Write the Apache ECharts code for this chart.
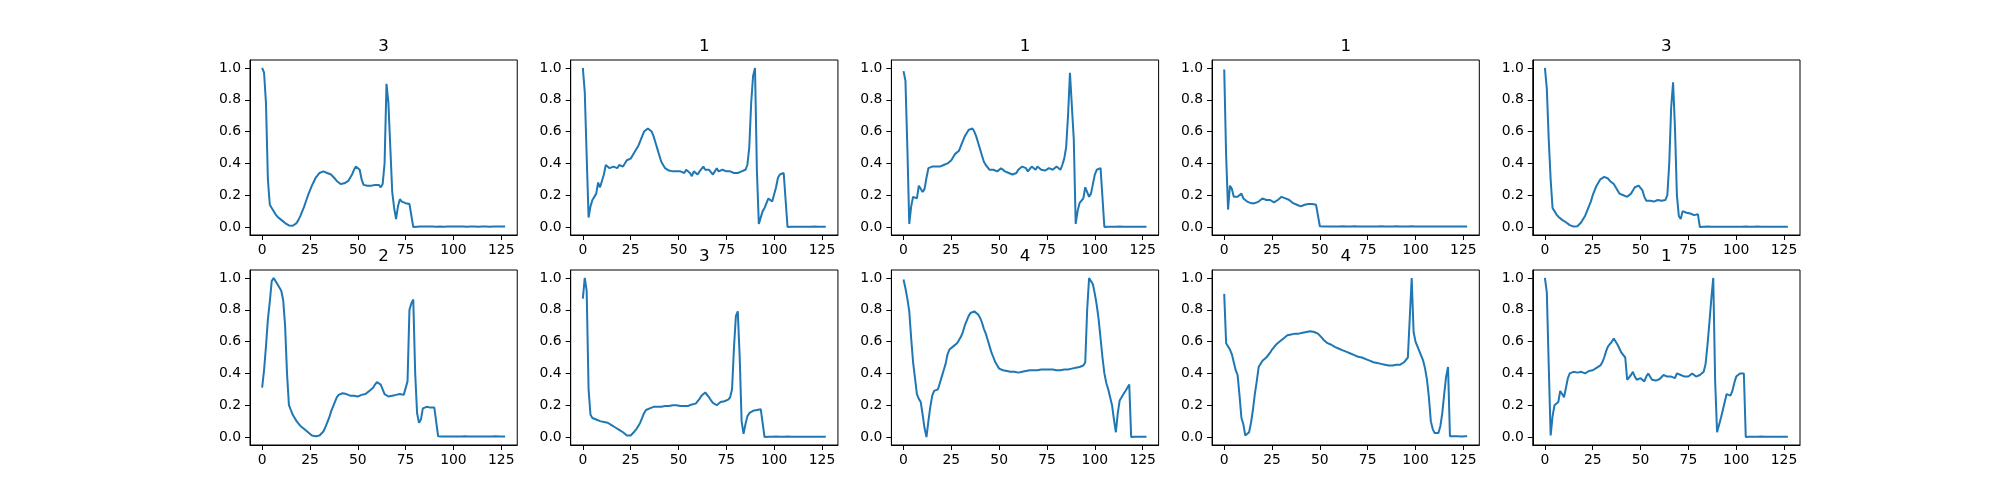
<!DOCTYPE html>
<html>
<head>
<meta charset="utf-8">
<script src="https://cdn.jsdelivr.net/npm/echarts@6/dist/echarts.min.js"></script>
<style>
  html, body { margin: 0; padding: 0; background: #fff; }
  #chart { width: 2000px; height: 500px; }
</style>
</head>
<body>
<div id="chart"></div>
<script>
// panel titles (class labels), row by row
const panelTitles = ['3', '1', '1', '1', '3', '2', '3', '4', '4', '1'];

const xTicks = [0, 25, 50, 75, 100, 125];
const yTicks = [0, 0.2, 0.4, 0.6, 0.8, 1.0];

// 128 samples per beat
const beat0 = [
  1.0, 0.97, 0.78, 0.3, 0.14, 0.12, 0.11, 0.08, 0.065, 0.055,
  0.045, 0.035, 0.025, 0.015, 0.01, 0.008, 0.008, 0.012, 0.025, 0.045,
  0.07, 0.1, 0.13, 0.165, 0.2, 0.23, 0.26, 0.285, 0.31, 0.325,
  0.34, 0.35, 0.35, 0.345, 0.34, 0.335, 0.33, 0.32, 0.305, 0.29,
  0.28, 0.27, 0.27, 0.275, 0.28, 0.29, 0.3, 0.33, 0.36, 0.38,
  0.38, 0.36, 0.3, 0.265, 0.26, 0.26, 0.26, 0.26, 0.26, 0.265,
  0.26, 0.265, 0.25, 0.27, 0.4, 0.9, 0.78, 0.5, 0.22, 0.12,
  0.05, 0.13, 0.175, 0.16, 0.155, 0.15, 0.15, 0.145, 0.15, 0.0,
  0.002, 0.002, 0.003, 0.003, 0.002, 0.003, 0.003, 0.003, 0.002, 0.003,
  0.003, 0.002, 0.003, 0.003, 0.003, 0.002, 0.003, 0.003, 0.003, 0.003,
  0.003, 0.003, 0.002, 0.003, 0.003, 0.003, 0.003, 0.002, 0.003, 0.003,
  0.003, 0.003, 0.003, 0.002, 0.003, 0.003, 0.003, 0.003, 0.003, 0.002,
  0.003, 0.003, 0.003, 0.003, 0.002, 0.003, 0.003, 0.003
];
const beat1 = [
  1.0, 0.85, 0.45, 0.06, 0.13, 0.17, 0.17, 0.21, 0.28, 0.25,
  0.25, 0.33, 0.39, 0.4, 0.37, 0.38, 0.38, 0.38, 0.37, 0.39,
  0.4, 0.38, 0.39, 0.42, 0.43, 0.43, 0.44, 0.47, 0.49, 0.51,
  0.54, 0.57, 0.6, 0.61, 0.62, 0.62, 0.6, 0.57, 0.53, 0.49,
  0.45, 0.41, 0.39, 0.37, 0.36, 0.355, 0.35, 0.35, 0.345, 0.35,
  0.36, 0.35, 0.36, 0.34, 0.36, 0.36, 0.34, 0.32, 0.35, 0.34,
  0.33, 0.35, 0.36, 0.38, 0.36, 0.37, 0.36, 0.35, 0.33, 0.35,
  0.37, 0.35, 0.35, 0.36, 0.35, 0.35, 0.34, 0.35, 0.35, 0.34,
  0.35, 0.34, 0.35, 0.35, 0.35, 0.36, 0.39, 0.5, 0.78, 0.95,
  1.0, 0.35, 0.02, 0.02, 0.1, 0.12, 0.11, 0.18, 0.17, 0.16,
  0.15, 0.25, 0.31, 0.33, 0.33, 0.34, 0.35, 0.0, 0.002, 0.002,
  0.002, 0.002, 0.003, 0.002, 0.002, 0.002, 0.003, 0.002, 0.002, 0.002,
  0.002, 0.003, 0.002, 0.002, 0.002, 0.002, 0.003, 0.002
];
const beat2 = [
  0.98, 0.92, 0.5, 0.02, 0.13, 0.19, 0.19, 0.18, 0.26, 0.26,
  0.22, 0.24, 0.31, 0.37, 0.38, 0.38, 0.38, 0.38, 0.38, 0.38,
  0.39, 0.39, 0.395, 0.4, 0.41, 0.42, 0.44, 0.46, 0.47, 0.48,
  0.51, 0.54, 0.57, 0.59, 0.61, 0.62, 0.62, 0.6, 0.57, 0.53,
  0.49, 0.45, 0.41, 0.39, 0.38, 0.36, 0.35, 0.36, 0.37, 0.35,
  0.36, 0.37, 0.36, 0.35, 0.35, 0.34, 0.35, 0.33, 0.33, 0.34,
  0.36, 0.37, 0.38, 0.39, 0.37, 0.35, 0.36, 0.38, 0.37, 0.36,
  0.38, 0.38, 0.36, 0.35, 0.355, 0.365, 0.37, 0.365, 0.36, 0.37,
  0.38, 0.37, 0.36, 0.39, 0.43, 0.5, 0.7, 0.97, 0.98, 0.55,
  0.02, 0.1, 0.15, 0.16, 0.18, 0.25, 0.22, 0.19, 0.21, 0.27,
  0.33, 0.36, 0.37, 0.37, 0.37, 0.0, 0.002, 0.002, 0.002, 0.002,
  0.002, 0.002, 0.002, 0.003, 0.002, 0.002, 0.002, 0.002, 0.002, 0.002,
  0.002, 0.002, 0.002, 0.002, 0.003, 0.002, 0.002, 0.002
];
const beat3 = [
  0.99, 0.45, 0.11, 0.26, 0.24, 0.19, 0.19, 0.19, 0.2, 0.21,
  0.18, 0.17, 0.16, 0.155, 0.15, 0.15, 0.15, 0.16, 0.16, 0.17,
  0.18, 0.17, 0.17, 0.165, 0.17, 0.16, 0.155, 0.16, 0.17, 0.18,
  0.19, 0.2, 0.18, 0.17, 0.17, 0.16, 0.15, 0.15, 0.14, 0.14,
  0.13, 0.13, 0.14, 0.145, 0.145, 0.14, 0.145, 0.145, 0.14, 0.13,
  0.005, 0.004, 0.004, 0.005, 0.004, 0.004, 0.004, 0.005, 0.004, 0.004,
  0.004, 0.004, 0.005, 0.004, 0.004, 0.004, 0.004, 0.004, 0.005, 0.004,
  0.004, 0.004, 0.004, 0.004, 0.004, 0.005, 0.004, 0.004, 0.004, 0.004,
  0.004, 0.004, 0.005, 0.004, 0.004, 0.004, 0.004, 0.004, 0.004, 0.004,
  0.005, 0.004, 0.004, 0.004, 0.004, 0.004, 0.004, 0.004, 0.005, 0.004,
  0.004, 0.004, 0.004, 0.004, 0.004, 0.004, 0.004, 0.005, 0.004, 0.004,
  0.004, 0.004, 0.004, 0.004, 0.004, 0.004, 0.004, 0.004, 0.004, 0.005,
  0.004, 0.004, 0.004, 0.004, 0.004, 0.004, 0.004, 0.004
];
const beat4 = [
  1.0, 0.87, 0.55, 0.3, 0.12, 0.1, 0.08, 0.065, 0.055, 0.045,
  0.035, 0.03, 0.02, 0.012, 0.007, 0.003, 0.002, 0.005, 0.015, 0.03,
  0.05, 0.07, 0.1, 0.13, 0.16, 0.2, 0.23, 0.26, 0.28, 0.3,
  0.31, 0.315, 0.31, 0.305, 0.29, 0.28, 0.27, 0.25, 0.23, 0.21,
  0.205, 0.2, 0.195, 0.19, 0.2, 0.21, 0.23, 0.25, 0.26, 0.26,
  0.255, 0.23, 0.19, 0.165, 0.16, 0.165, 0.16, 0.16, 0.165, 0.17,
  0.17, 0.165, 0.16, 0.17, 0.2, 0.4, 0.75, 0.91, 0.62, 0.2,
  0.07, 0.05, 0.1, 0.09, 0.09, 0.085, 0.085, 0.075, 0.075, 0.075,
  0.08, 0.0, 0.002, 0.002, 0.002, 0.003, 0.002, 0.002, 0.002, 0.002,
  0.002, 0.002, 0.003, 0.002, 0.002, 0.002, 0.002, 0.002, 0.003, 0.002,
  0.002, 0.002, 0.002, 0.002, 0.002, 0.003, 0.002, 0.002, 0.002, 0.002,
  0.002, 0.003, 0.002, 0.002, 0.002, 0.002, 0.002, 0.002, 0.003, 0.002,
  0.002, 0.002, 0.002, 0.002, 0.003, 0.002, 0.002, 0.002
];
const beat5 = [
  0.31, 0.42, 0.57, 0.74, 0.85, 0.98, 1.0, 0.99, 0.96, 0.94,
  0.92, 0.86, 0.7, 0.4, 0.2, 0.17, 0.14, 0.12, 0.1, 0.085,
  0.07, 0.06, 0.05, 0.04, 0.03, 0.02, 0.01, 0.005, 0.005, 0.006,
  0.01, 0.02, 0.035, 0.06, 0.09, 0.12, 0.16, 0.19, 0.22, 0.25,
  0.265, 0.27, 0.275, 0.275, 0.27, 0.265, 0.26, 0.26, 0.26, 0.255,
  0.255, 0.26, 0.265, 0.265, 0.27, 0.28, 0.29, 0.3, 0.31, 0.33,
  0.345, 0.345, 0.33, 0.3, 0.27, 0.26, 0.255, 0.26, 0.26, 0.26,
  0.265, 0.265, 0.27, 0.265, 0.265, 0.27, 0.35, 0.8, 0.84, 0.865,
  0.4, 0.15, 0.09, 0.11, 0.18, 0.19, 0.19, 0.19, 0.185, 0.18,
  0.185, 0.19, 0.005, 0.004, 0.004, 0.005, 0.004, 0.004, 0.004, 0.004,
  0.004, 0.005, 0.004, 0.004, 0.004, 0.004, 0.005, 0.004, 0.004, 0.004,
  0.004, 0.004, 0.004, 0.005, 0.004, 0.004, 0.004, 0.004, 0.004, 0.004,
  0.004, 0.004, 0.005, 0.004, 0.004, 0.004, 0.004, 0.004
];
const beat6 = [
  0.87, 1.0, 0.92, 0.3, 0.14, 0.12, 0.11, 0.11, 0.105, 0.1,
  0.1, 0.095, 0.095, 0.09, 0.085, 0.075, 0.07, 0.06, 0.05, 0.045,
  0.035, 0.03, 0.02, 0.01, 0.008, 0.01, 0.02, 0.035, 0.05, 0.07,
  0.09, 0.12, 0.15, 0.17, 0.175, 0.18, 0.185, 0.19, 0.185, 0.19,
  0.19, 0.19, 0.19, 0.195, 0.19, 0.195, 0.195, 0.2, 0.195, 0.2,
  0.2, 0.195, 0.19, 0.195, 0.2, 0.195, 0.2, 0.205, 0.21, 0.21,
  0.22, 0.24, 0.26, 0.27, 0.28, 0.27, 0.25, 0.23, 0.215, 0.205,
  0.2, 0.21, 0.22, 0.225, 0.225, 0.23, 0.235, 0.25, 0.3, 0.56,
  0.76, 0.79, 0.5, 0.1, 0.02, 0.08, 0.13, 0.15, 0.16, 0.165,
  0.17, 0.17, 0.175, 0.175, 0.175, 0.0, 0.002, 0.002, 0.002, 0.002,
  0.002, 0.003, 0.002, 0.002, 0.002, 0.002, 0.002, 0.003, 0.002, 0.002,
  0.002, 0.002, 0.002, 0.002, 0.003, 0.002, 0.002, 0.002, 0.002, 0.002,
  0.003, 0.002, 0.002, 0.002, 0.002, 0.002, 0.002, 0.002
];
const beat7 = [
  0.99, 0.935, 0.87, 0.79, 0.62, 0.47, 0.37, 0.27, 0.24, 0.22,
  0.14, 0.055, 0.0, 0.1, 0.19, 0.26, 0.29, 0.3, 0.3, 0.34,
  0.38, 0.42, 0.46, 0.52, 0.55, 0.56, 0.57, 0.58, 0.59, 0.61,
  0.63, 0.66, 0.7, 0.73, 0.76, 0.78, 0.79, 0.79, 0.78, 0.77,
  0.75, 0.72, 0.68, 0.65, 0.61, 0.57, 0.53, 0.5, 0.47, 0.45,
  0.43, 0.425, 0.42, 0.415, 0.415, 0.41, 0.41, 0.41, 0.41, 0.41,
  0.405, 0.41, 0.41, 0.415, 0.415, 0.42, 0.42, 0.42, 0.42, 0.42,
  0.42, 0.425, 0.425, 0.425, 0.425, 0.425, 0.425, 0.425, 0.425, 0.425,
  0.42, 0.42, 0.42, 0.425, 0.425, 0.425, 0.425, 0.425, 0.43, 0.43,
  0.435, 0.44, 0.44, 0.445, 0.45, 0.47, 0.8, 1.0, 0.99, 0.96,
  0.9, 0.83, 0.74, 0.62, 0.5, 0.4, 0.34, 0.3, 0.25, 0.2,
  0.11, 0.03, 0.15, 0.23, 0.25, 0.27, 0.29, 0.3, 0.33, 0.0,
  0.002, 0.002, 0.003, 0.002, 0.002, 0.002, 0.003, 0.002
];
const beat8 = [
  0.9, 0.59, 0.59, 0.55, 0.52, 0.47, 0.42, 0.39, 0.26, 0.12,
  0.08, 0.01, 0.015, 0.03, 0.09, 0.17, 0.27, 0.35, 0.44, 0.45,
  0.48, 0.49, 0.5, 0.51, 0.53, 0.55, 0.56, 0.58, 0.59, 0.6,
  0.61, 0.62, 0.625, 0.64, 0.64, 0.645, 0.645, 0.65, 0.65, 0.65,
  0.655, 0.655, 0.66, 0.66, 0.665, 0.665, 0.665, 0.66, 0.655, 0.65,
  0.64, 0.625, 0.61, 0.6, 0.59, 0.585, 0.58, 0.575, 0.565, 0.56,
  0.555, 0.55, 0.545, 0.54, 0.535, 0.53, 0.525, 0.52, 0.515, 0.51,
  0.505, 0.5, 0.5, 0.495, 0.49, 0.485, 0.48, 0.475, 0.47, 0.465,
  0.465, 0.46, 0.46, 0.455, 0.455, 0.455, 0.45, 0.455, 0.45, 0.45,
  0.455, 0.45, 0.455, 0.46, 0.47, 0.48, 0.5, 0.75, 1.0, 0.66,
  0.6, 0.57, 0.54, 0.51, 0.48, 0.43, 0.36, 0.25, 0.1, 0.05,
  0.025, 0.03, 0.025, 0.07, 0.15, 0.27, 0.38, 0.44, 0.005, 0.005,
  0.005, 0.004, 0.005, 0.005, 0.004, 0.005, 0.005, 0.005
];
const beat9 = [
  1.0, 0.91, 0.45, 0.01, 0.13, 0.2, 0.2, 0.22, 0.29, 0.27,
  0.25, 0.31, 0.37, 0.4, 0.4, 0.41, 0.415, 0.405, 0.4, 0.41,
  0.4, 0.4, 0.41, 0.415, 0.42, 0.42, 0.43, 0.435, 0.44, 0.45,
  0.47, 0.5, 0.54, 0.57, 0.58, 0.6, 0.62, 0.62, 0.58, 0.555,
  0.53, 0.52, 0.5, 0.36, 0.35, 0.39, 0.41, 0.38, 0.36, 0.365,
  0.37, 0.36, 0.35, 0.38, 0.4, 0.39, 0.36, 0.35, 0.355, 0.36,
  0.365, 0.37, 0.39, 0.4, 0.38, 0.375, 0.38, 0.39, 0.37, 0.4,
  0.4, 0.39, 0.385, 0.38, 0.38, 0.38, 0.39, 0.4, 0.39, 0.38,
  0.37, 0.39, 0.4, 0.41, 0.46, 0.58, 0.72, 0.87, 1.0, 0.35,
  0.03, 0.03, 0.12, 0.17, 0.18, 0.27, 0.28, 0.26, 0.29, 0.34,
  0.38, 0.39, 0.4, 0.4, 0.4, 0.0, 0.002, 0.002, 0.003, 0.002,
  0.002, 0.002, 0.002, 0.003, 0.002, 0.002, 0.002, 0.002, 0.003, 0.002,
  0.002, 0.002, 0.003, 0.002, 0.002, 0.002, 0.004, 0.002
];

const beats = [beat0, beat1, beat2, beat3, beat4, beat5, beat6, beat7, beat8, beat9];

// matplotlib-like subplot geometry (2 rows x 5 cols)
const FIG_LEFT = 250;
const PANEL_W = 267.24;
const PANEL_STEP = 320.69;
const ROW_TOP = [60, 270];
const PANEL_H = 175;
const FONT = 'DejaVu Sans';

const chart = echarts.init(document.getElementById('chart'), null, { renderer: 'canvas' });

const grids = [];
const xAxes = [];
const yAxes = [];
const series = [];
const titles = [];

beats.forEach((beat, i) => {
  const col = i % 5;
  const row = Math.floor(i / 5);
  const left = FIG_LEFT + col * PANEL_STEP;
  const top = ROW_TOP[row];

  grids.push({
    left: left, top: top, width: PANEL_W, height: PANEL_H,
    show: true, borderColor: '#000', borderWidth: 1, backgroundColor: '#fff'
  });

  xAxes.push({
    type: 'value', gridIndex: i, min: -6.35, max: 133.35,
    axisLine: { show: true, onZero: false, lineStyle: { color: '#000', width: 1 } },
    axisTick: { show: true, length: 5, lineStyle: { color: '#000', width: 1 }, customValues: xTicks },
    axisLabel: {
      customValues: xTicks, margin: 8, color: '#000', fontSize: 13.9, fontFamily: FONT,
      formatter: (v) => String(v)
    },
    splitLine: { show: false }
  });

  yAxes.push({
    type: 'value', gridIndex: i, min: -0.05, max: 1.05,
    axisLine: { show: true, onZero: false, lineStyle: { color: '#000', width: 1 } },
    axisTick: { show: true, length: 5, lineStyle: { color: '#000', width: 1 }, customValues: yTicks },
    axisLabel: {
      customValues: yTicks, margin: 9, color: '#000', fontSize: 13.9, fontFamily: FONT,
      formatter: (v) => v.toFixed(1)
    },
    splitLine: { show: false }
  });

  series.push({
    type: 'line', xAxisIndex: i, yAxisIndex: i,
    data: beat.map((v, k) => [k, v]),
    showSymbol: false, symbol: 'none',
    lineStyle: { color: '#1f77b4', width: 2 },
    silent: true
  });

  titles.push({
    text: panelTitles[i],
    left: left + PANEL_W / 2, top: top - 22,
    textAlign: 'center', padding: 0,
    textStyle: { fontSize: 16.7, fontWeight: 'normal', fontFamily: FONT, color: '#000' }
  });
});

chart.setOption({
  animation: false,
  backgroundColor: '#fff',
  title: titles,
  grid: grids,
  xAxis: xAxes,
  yAxis: yAxes,
  series: series
});
</script>
</body>
</html>
